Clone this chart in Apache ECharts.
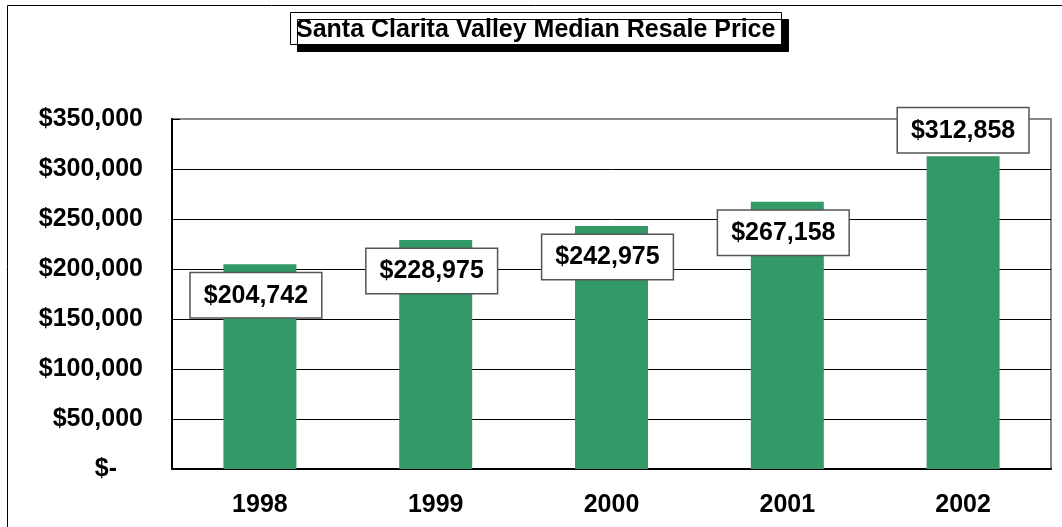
<!DOCTYPE html>
<html>
<head>
<meta charset="utf-8">
<script src="https://cdn.jsdelivr.net/npm/echarts@6/dist/echarts.min.js"></script>
<style>
  html, body { margin: 0; padding: 0; background: #fff; }
  #chart { width: 1062px; height: 527px; }
</style>
</head>
<body>
<div id="chart"></div>
<script>
// values
const years = ["1998", "1999", "2000", "2001", "2002"]
const prices = [204742, 228975, 242975, 267158, 312858]
const yTicks = { min: 0, max: 350000, step: 50000 }

const font = "'Liberation Sans', Arial, sans-serif"
const money = v => "$" + v.toLocaleString("en-US")

let chart = echarts.init(document.getElementById("chart"))

// last bar's label sits above the bar, the others just inside the top
let barData = prices.map((v, i) => i === prices.length - 1
  ? { value: v, label: { position: "top", distance: 4, offset: [0, 0] } }
  : v)

chart.setOption({
  animation: false,
  textStyle: { fontFamily: font },
  graphic: [{
    type: "rect",
    shape: { x: 7.5, y: 5.5, width: 1200, height: 700 },
    style: { fill: "none", stroke: "#000", lineWidth: 1 },
    silent: true
  }],
  title: {
    text: "Santa Clarita Valley Median Resale Price",
    left: 290,
    top: 12,
    padding: [6, 6, 2, 6],
    backgroundColor: "#fff",
    borderColor: "#000",
    borderWidth: 1,
    shadowColor: "#000",
    shadowBlur: 0,
    shadowOffsetX: 7,
    shadowOffsetY: 7,
    textStyle: { fontFamily: font, fontSize: 25, fontWeight: "bold", color: "#000" }
  },
  grid: {
    left: 172,
    top: 119,
    right: 11,
    bottom: 58,
    show: true,
    borderColor: "#888",
    borderWidth: 2,
    backgroundColor: "#fff"
  },
  xAxis: {
    type: "category",
    data: years,
    axisLine: { lineStyle: { color: "#000", width: 2 } },
    axisTick: { show: false },
    axisLabel: { margin: 24, fontFamily: font, fontSize: 25, fontWeight: "bold", color: "#000" }
  },
  yAxis: {
    type: "value",
    min: yTicks.min,
    max: yTicks.max,
    interval: yTicks.step,
    axisLine: { show: true, lineStyle: { color: "#000", width: 2 } },
    axisTick: { show: true, inside: true, length: 8, lineStyle: { color: "#000" } },
    splitLine: { show: true, showMaxLine: false, lineStyle: { color: "#000", width: 1 } },
    axisLabel: {
      margin: 29,
      fontFamily: font,
      fontSize: 25,
      fontWeight: "bold",
      color: "#000",
      formatter: v => v === 0 ? "{z|$-}" : money(v),
      rich: { z: { fontFamily: font, fontSize: 25, fontWeight: "bold", color: "#000", padding: [0, 26, 0, 0] } }
    }
  },
  series: [{
    type: "bar",
    data: barData,
    barWidth: 73,
    itemStyle: { color: "#339966" },
    label: {
      show: true,
      position: "insideTop",
      distance: 9,
      offset: [-4, 0],
      formatter: p => money(p.value),
      fontFamily: font,
      fontSize: 25,
      fontWeight: "bold",
      color: "#000",
      backgroundColor: "#fff",
      borderColor: "#555",
      borderWidth: 1.5,
      padding: [10, 13, 9, 13]
    }
  }]
})
</script>
</body>
</html>
